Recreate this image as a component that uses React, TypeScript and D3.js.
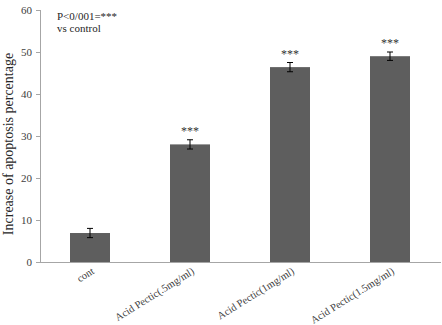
import React from "react";
import * as d3 from "d3";

const categories = ["cont", "Acid Pectic(.5mg/ml)", "Acid Pectic(1mg/ml)", "Acid Pectic(1.5mg/ml)"];
const values = [6.9, 28.0, 46.4, 49.0];
const errors = [1.1, 1.1, 1.1, 1.0];
const significance = ["", "***", "***", "***"];
const yTicks = [0, 10, 20, 30, 40, 50, 60];
const yLabel = "Increase of apoptosis percentage";
const noteLines = ["P<0/001=***", "vs control"];

export default function App() {
  const width = 442;
  const height = 325;
  const x0 = 40;
  const x1 = 440;
  const yTop = 10;
  const yBottom = 262;

  const x = d3.scaleBand<string>().domain(categories).range([x0, x1]).paddingInner(0.6).paddingOuter(0.3);
  const y = d3.scaleLinear().domain([0, 60]).range([yBottom, yTop]);
  const font = "'Liberation Serif', 'Times New Roman', serif";

  return (
    <svg width={width} height={height} style={{ position: "absolute", left: 0, top: 0, background: "#fff" }}>
      {/* y axis */}
      <line x1={x0 + 0.5} x2={x0 + 0.5} y1={yTop} y2={yBottom} stroke="#a6a6a6" strokeWidth={1} />
      {yTicks.map((t) => (
        <g key={t}>
          <line x1={x0 - 4} x2={x0} y1={Math.round(y(t)) + 0.5} y2={Math.round(y(t)) + 0.5} stroke="#a6a6a6" />
          <text x={x0 - 8} y={y(t)} dy="0.35em" textAnchor="end" fontFamily={font} fontSize={11} fill="#404040">
            {t}
          </text>
        </g>
      ))}
      {/* x axis */}
      <line x1={x0} x2={x1 + 1} y1={yBottom + 0.5} y2={yBottom + 0.5} stroke="#a6a6a6" />
      {/* bars */}
      {categories.map((c, i) => {
        const bx = x(c)!;
        const cx = bx + x.bandwidth() / 2;
        const top = y(values[i]);
        const eTop = y(values[i] + errors[i]);
        const eBot = y(values[i] - errors[i]);
        return (
          <g key={c}>
            <rect x={bx} y={top} width={x.bandwidth()} height={yBottom - top} fill="#5e5e5e" />
            <line x1={cx} x2={cx} y1={eTop} y2={eBot} stroke="#000" strokeWidth={1} />
            <line x1={cx - 3} x2={cx + 3} y1={eTop} y2={eTop} stroke="#000" strokeWidth={1} />
            <line x1={cx - 3} x2={cx + 3} y1={eBot} y2={eBot} stroke="#000" strokeWidth={1} />
            {significance[i] && (
              <text x={cx} y={eTop - 5} textAnchor="middle" fontFamily={font} fontSize={12} fill="#333333">
                {significance[i]}
              </text>
            )}
            <text
              transform={`translate(${cx + 5},${yBottom + 11}) rotate(-32)`}
              textAnchor="end"
              fontFamily={font}
              fontSize={10.5}
              fill="#404040"
            >
              {c}
            </text>
          </g>
        );
      })}
      {/* y label */}
      <text
        transform={`translate(13,144) rotate(-90)`}
        textAnchor="middle"
        fontFamily={font}
        fontSize={14}
        fill="#262626"
      >
        {yLabel}
      </text>
      {/* note */}
      {noteLines.map((l, i) => (
        <text key={l} x={57} y={20 + i * 12} fontFamily={font} fontSize={11} fill="#262626">
          {l}
        </text>
      ))}
    </svg>
  );
}
